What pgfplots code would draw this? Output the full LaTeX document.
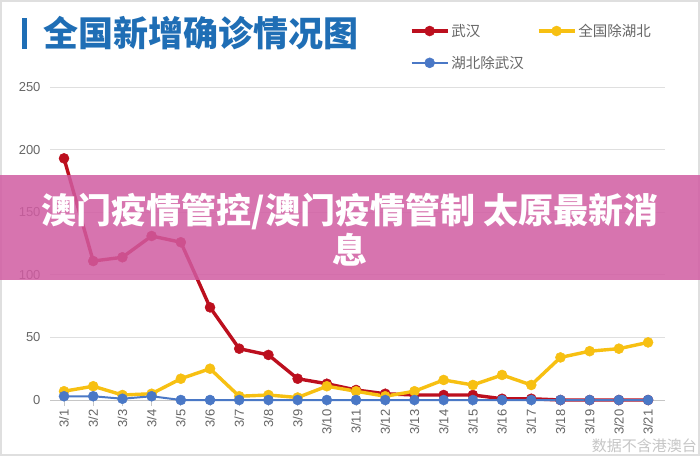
\documentclass[border=0pt]{standalone}
\usepackage{pgfplots}
\pgfplotsset{compat=1.18}
\usepackage{fontspec}
\setmainfont{Liberation Sans}
\newfontfamily\cjk{Noto Sans CJK SC}
\definecolor{wh}{HTML}{BC0F1E}
\definecolor{qg}{HTML}{F7C012}
\definecolor{hb}{HTML}{4A78C6}
\definecolor{tblue}{HTML}{1F6EB5}
\definecolor{pinkb}{RGB}{209,92,162}
\definecolor{tick}{HTML}{666666}
\begin{document}
\begin{tikzpicture}[x=1pt,y=1pt]
\useasboundingbox (0,0) rectangle (700,456);
\fill[white] (0,0) rectangle (700,456);
\draw[gray!25, line width=1.5pt] (1,1) rectangle (699,455);
\fill[tblue] (22,407) rectangle (27,438);
\node[anchor=west, text=tblue, inner sep=0pt] at (43,423) {\cjk\bfseries\fontsize{35}{35}\selectfont 全国新增确诊情况图};
\begin{axis}[
  at={(50pt,56pt)}, anchor=south west, scale only axis,
  width=615pt, height=313pt,
  xmin=-0.48, xmax=20.58, ymin=0, ymax=250,
  ytick={0,50,100,150,200,250},
  xtick={0,...,20},
  xticklabels={3/1,3/2,3/3,3/4,3/5,3/6,3/7,3/8,3/9,3/10,3/11,3/12,3/13,3/14,3/15,3/16,3/17,3/18,3/19,3/20,3/21},
  axis x line*=bottom, axis y line*=left,
  y axis line style={draw=none},
  x axis line style={draw=gray!45, line width=1pt, -},
  ymajorgrids, grid style={gray!25, line width=1pt},
  ytick style={draw=none},
  xtick style={draw=gray!45, line width=0.8pt},
  tick align=outside, major tick length=6pt,
  clip=false,
  /pgf/number format/assume math mode=true,
  tick label style={font=\fontsize{13}{13}\selectfont, text=tick},
  xticklabel style={rotate=90, anchor=east},
  yticklabel style={anchor=east},
  legend columns=2,
  legend cell align=left,
  legend style={at={(0.585,1.208)}, anchor=north west, draw=none, fill=none,
    inner sep=0pt, row sep=14pt,
    font=\cjk\fontsize{14.5}{14.5}\selectfont, text=tick,
    /tikz/every even column/.append style={column sep=11pt}},
  legend image code/.code={\draw[#1, mark repeat=2, mark phase=2] plot coordinates {(0pt,0pt) (18pt,0pt) (36pt,0pt)};},
]
\addplot[wh, line width=3.4pt, mark=*, mark size=5pt, mark options={line width=0.5pt}] coordinates {
(0,193) (1,111) (2,114) (3,131) (4,126) (5,74) (6,41) (7,36) (8,17) (9,13) (10,8) (11,5) (12,4) (13,4) (14,4) (15,1) (16,1) (17,0) (18,0) (19,0) (20,0)};
\addlegendentry{武汉}
\addplot[qg, line width=3.4pt, mark=*, mark size=5pt, mark options={line width=0.5pt}] coordinates {
(0,7) (1,11) (2,4) (3,5) (4,17) (5,25) (6,3) (7,4) (8,2) (9,11) (10,7) (11,3) (12,7) (13,16) (14,12) (15,20) (16,12) (17,34) (18,39) (19,41) (20,46)};
\addlegendentry{全国除湖北}
\addplot[hb, line width=2pt, mark=*, mark size=5pt, mark options={line width=0.5pt}] coordinates {
(0,3) (1,3) (2,1) (3,3) (4,0) (5,0) (6,0) (7,0) (8,0) (9,0) (10,0) (11,0) (12,0) (13,0) (14,0) (15,0) (16,0) (17,0) (18,0) (19,0) (20,0)};
\addlegendentry{湖北除武汉}
\end{axis}
\fill[pinkb, opacity=0.85] (0,176) rectangle (700,281);
\node[text=white, align=center, inner sep=0pt, font=\cjk\bfseries\fontsize{35}{40}\selectfont] at (350,226) {澳门疫情管控/澳门疫情管制 太原最新消\\息};
\node[anchor=south east, text=gray!45, inner sep=1pt] at (698,2) {\cjk\fontsize{15}{15}\selectfont 数据不含港澳台};
\end{tikzpicture}
\end{document}
